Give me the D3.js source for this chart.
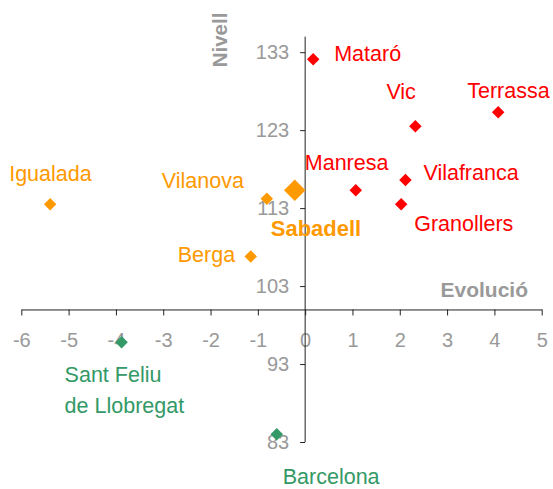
<!DOCTYPE html>
<html>
<head>
<meta charset="utf-8">
<script src="https://cdn.jsdelivr.net/npm/d3@7"></script>
<style>
	body { margin: 0; background: #fff; }
	text { font-family: "Liberation Sans", Arial, sans-serif; }
</style>
</head>
<body>
<script>
// dades
const names = ['Mataró', 'Vic', 'Terrassa', 'Manresa', 'Vilafranca', 'Granollers', 'Sabadell', 'Vilanova', 'Igualada', 'Berga', 'Sant Feliu de Llobregat', 'Barcelona'];
const evolucio = [0.17, 2.33, 4.08, 1.07, 2.12, 2.03, -0.22, -0.81, -5.39, -1.15, -3.88, -0.6];
const nivell = [132.1, 123.5, 125.3, 115.3, 116.6, 113.5, 115.3, 114.2, 113.5, 106.8, 95.8, 84.0];
const grups = ['red', 'red', 'red', 'red', 'red', 'red', 'main', 'orange', 'orange', 'orange', 'green', 'green'];
const xTicks = [-6, -5, -4, -3, -2, -1, 0, 1, 2, 3, 4, 5];
const yTicks = [83, 93, 103, 113, 123, 133];

// posicio de les etiquetes (respecte del punt)
const labelPos = {
	'Mataró': [21, 2],
	'Vic': [-29, -27],
	'Terrassa': [-31, -14],
	'Manresa': [-51, -20],
	'Vilafranca': [18, 0],
	'Granollers': [13, 27],
	'Sabadell': [-24, 46],
	'Vilanova': [-105, -11],
	'Igualada': [-41, -23],
	'Berga': [-73, 6],
	'Sant Feliu de Llobregat': [-57, 40],
	'Barcelona': [6, 50]
};

const colors = {red: '#ff0000', orange: '#ff9900', main: '#ff9900', green: '#339966'};
const grey = '#999999';

const width = 553, height = 489;
const x = d3.scaleLinear().domain([-6, 5]).range([21.3, 541.7]);
const y = d3.scaleLinear().domain([83, 135]).range([442, 36.6]);

const svg = d3.select('body').append('svg')
	.attr('width', width)
	.attr('height', height);

// eix X
const xAxis = svg.append('g')
	.attr('transform', `translate(0,${y(100)})`)
	.call(d3.axisBottom(x).tickValues(xTicks).tickSize(6).tickSizeOuter(0).tickFormat(d => String(d)));
xAxis.selectAll('text')
	.attr('y', 38)
	.attr('dy', null)
	.attr('fill', grey)
	.style('font-size', '20px');

// eix Y
const yAxis = svg.append('g')
	.attr('transform', `translate(${x(0)},0)`)
	.call(d3.axisLeft(y).tickValues(yTicks).tickSize(5).tickSizeOuter(0).tickPadding(11));
yAxis.select('.domain').attr('d', `M0,${y(135)}V${y(83)}`);
yAxis.selectAll('text')
	.attr('fill', grey)
	.style('font-size', '20px');

svg.selectAll('.domain, .tick line').attr('stroke', '#222');
svg.selectAll('.tick text').style('font-family', '"Liberation Sans", Arial, sans-serif');

// titols dels eixos
svg.append('text')
	.attr('transform', 'translate(227,40) rotate(-90)')
	.attr('text-anchor', 'middle')
	.attr('fill', grey)
	.style('font-size', '20.5px')
	.style('font-weight', 'bold')
	.text('Nivell');

svg.append('text')
	.attr('x', 528)
	.attr('y', 297)
	.attr('text-anchor', 'end')
	.attr('fill', grey)
	.style('font-size', '21px')
	.style('font-weight', 'bold')
	.text('Evolució');

// punts
const points = names.map((n, i) => ({name: n, x: evolucio[i], y: nivell[i], g: grups[i]}));

svg.append('g').selectAll('path')
	.data(points)
	.enter()
	.append('path')
	.attr('transform', d => `translate(${x(d.x)},${y(d.y)}) rotate(45)`)
	.attr('d', d => d3.symbol(d3.symbolSquare, d.g == 'main' ? 230 : 78)())
	.attr('fill', d => colors[d.g]);

// etiquetes
const labels = svg.append('g').selectAll('text')
	.data(points)
	.enter()
	.append('text')
	.attr('x', d => x(d.x) + labelPos[d.name][0])
	.attr('y', d => y(d.y) + labelPos[d.name][1])
	.attr('fill', d => colors[d.g])
	.style('font-size', d => d.g == 'main' ? '22px' : '21.5px')
	.style('font-weight', d => d.g == 'main' ? 'bold' : 'normal');

labels.each(function(d) {
	let parts = d.name == 'Sant Feliu de Llobregat' ? ['Sant Feliu', 'de Llobregat'] : [d.name];
	let t = d3.select(this);
	parts.forEach((p, i) => {
		t.append('tspan')
			.attr('x', x(d.x) + labelPos[d.name][0])
			.attr('dy', i == 0 ? 0 : 30.6)
			.text(p);
	});
});
</script>
</body>
</html>
